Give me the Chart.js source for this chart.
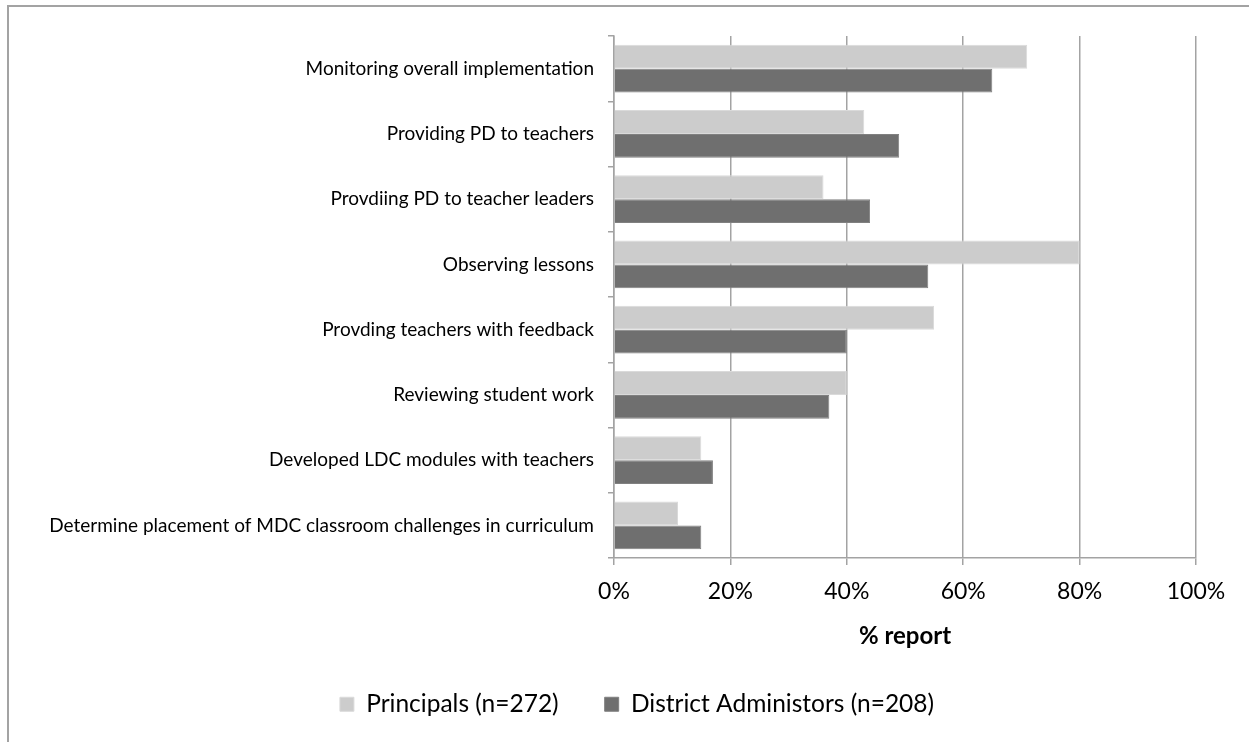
<!DOCTYPE html>
<html>
<head>
<meta charset="utf-8">
<script src="https://cdn.jsdelivr.net/npm/chart.js@4.4.1/dist/chart.umd.min.js"></script>
<style>
html,body{margin:0;padding:0;background:#fff;overflow:hidden}
#wrap{position:relative;width:1249px;height:742px}
#frame{position:absolute;left:7px;top:5px;width:1400px;height:900px;border:2px solid #a3a3a3;pointer-events:none}
canvas{position:absolute;left:0;top:0}
</style>
</head>
<body>
<div id="wrap"><canvas id="c" width="1249" height="742"></canvas><div id="frame"></div></div>
<script>
const categories = [
  'Monitoring overall implementation',
  'Providing PD to teachers',
  'Provdiing PD to teacher leaders',
  'Observing lessons',
  'Provding teachers with feedback',
  'Reviewing student work',
  'Developed LDC modules with teachers',
  'Determine placement of MDC classroom challenges in curriculum'
];
const principals = [71, 43, 36, 80, 55, 40, 15, 11];
const districtAdministrators = [65, 49, 44, 54, 40, 37, 17, 15];
const seriesNames = ['Principals (n=272)', 'District Administors (n=208)'];
const xAxisTitle = '% report';
const xMin = 0, xMax = 100, xStep = 20;

const FONT = 'Lato, "Open Sans", "DejaVu Sans", sans-serif';
const gridColor = '#a3a3a3';
const PLOT = {left: 614, right: 1196, top: 36, bottom: 558};
const PAD = {left: 25, bottom: 15.5};

new Chart(document.getElementById('c'), {
  type: 'bar',
  data: {
    labels: categories,
    datasets: [
      {label: seriesNames[0], data: principals, backgroundColor: '#cccccc', borderColor: '#dadada', borderWidth: 1,
       categoryPercentage: 0.735, barPercentage: 1.0, xAxisID: 'x', yAxisID: 'y'},
      {label: seriesNames[1], data: districtAdministrators, backgroundColor: '#6f6f6f', borderColor: '#808080', borderWidth: 1,
       categoryPercentage: 0.735, barPercentage: 1.0, xAxisID: 'x', yAxisID: 'y'}
    ]
  },
  options: {
    indexAxis: 'y',
    responsive: false,
    animation: false,
    devicePixelRatio: 1,
    layout: {padding: {top: PLOT.top, left: PAD.left, right: 0, bottom: PAD.bottom}},
    plugins: {
      legend: {
        position: 'bottom',
        labels: {
          boxWidth: 14, boxHeight: 14, padding: 46, color: '#000',
          font: {family: FONT, size: 24.5}
        }
      },
      tooltip: {enabled: false}
    },
    scales: {
      x: {
        min: xMin, max: xMax,
        ticks: {stepSize: xStep, color: '#000', padding: 13, font: {family: FONT, size: 23},
                callback: v => v + '%'},
        grid: {color: gridColor, lineWidth: 1.5, tickLength: 7, tickColor: gridColor},
        border: {color: gridColor, width: 1.5},
        title: {display: true, text: xAxisTitle, color: '#000', padding: 0,
                font: {family: FONT, size: 24, weight: 'bold', lineHeight: 0.8}},
        afterFit: s => {
          s.height = 742 - PAD.bottom - s.chart.legend.height - PLOT.bottom;
          s.paddingRight = 1249 - PLOT.right;
        }
      },
      y: {
        ticks: {color: '#000', padding: 14, font: {family: FONT, size: 19}},
        grid: {drawOnChartArea: false, tickLength: 6, color: gridColor, lineWidth: 1.5, offset: true},
        border: {color: gridColor, width: 1.5},
        afterFit: s => { s.width = PLOT.left - PAD.left; }
      }
    }
  }
});
</script>
</body>
</html>
